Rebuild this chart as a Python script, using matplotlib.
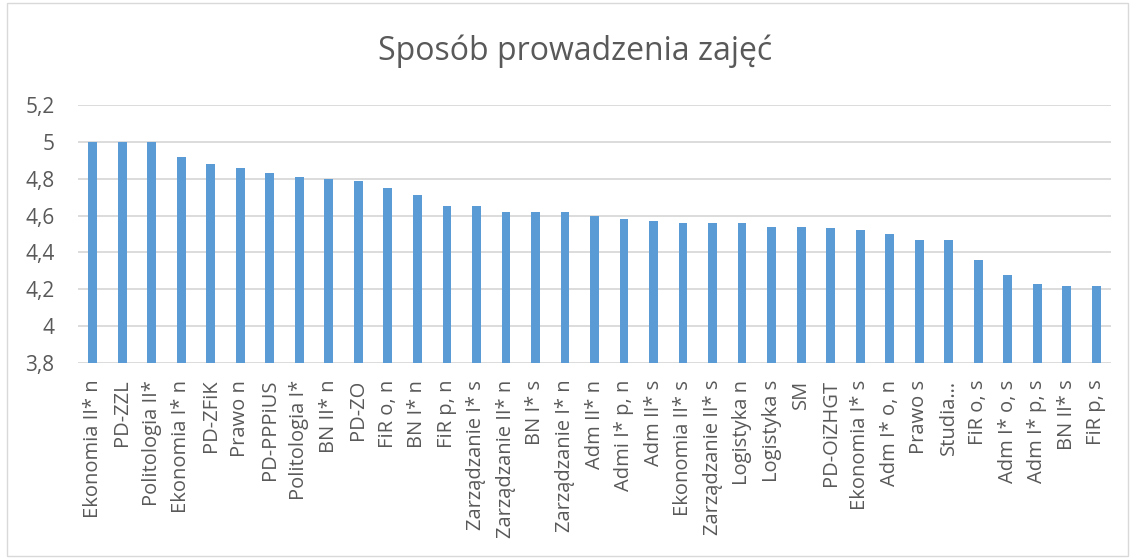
import matplotlib
matplotlib.use("Agg")
import matplotlib.pyplot as plt
from matplotlib.patches import Rectangle
from matplotlib.ticker import FuncFormatter

# values
categories = [
    "Ekonomia II* n", "PD-ZZL", "Politologia II*", "Ekonomia I* n", "PD-ZFiK",
    "Prawo n", "PD-PPPiUS", "Politologia I*", "BN II* n", "PD-ZO",
    "FiR o, n", "BN I* n", "FiR p, n", "Zarządzanie I* s", "Zarządzanie II* n",
    "BN I* s", "Zarządzanie I* n", "Adm II* n", "Admi I* p, n", "Adm II* s",
    "Ekonomia II* s", "Zarządzanie II* s", "Logistyka n", "Logistyka s", "SM",
    "PD-OiZHGT", "Ekonomia I* s", "Adm I* o, n", "Prawo s", "Studia…",
    "FiR o, s", "Adm I* o, s", "Adm I* p, s", "BN II* s", "FiR p, s",
]
values = [
    5.00, 5.00, 5.00, 4.92, 4.88,
    4.86, 4.83, 4.81, 4.80, 4.79,
    4.75, 4.71, 4.65, 4.65, 4.62,
    4.62, 4.62, 4.60, 4.58, 4.57,
    4.56, 4.56, 4.56, 4.54, 4.54,
    4.53, 4.52, 4.50, 4.47, 4.47,
    4.36, 4.28, 4.23, 4.22, 4.22,
]
y_ticks = [3.8, 4.0, 4.2, 4.4, 4.6, 4.8, 5.0, 5.2]

title = "Sposób prowadzenia zajęć"
bar_color = "#5B9BD5"
text_color = "#595959"
grid_color = "#D9D9D9"

plt.rcParams['font.family'] = ['Open Sans', 'DejaVu Sans']

fig = plt.figure(figsize=(11.35, 5.58), dpi=100)
ax = fig.add_axes([78 / 1135, 1 - 363 / 558, (1111 - 78) / 1135, (363 - 105) / 558])

x = range(len(categories))
ax.bar(x, values, width=0.3, color=bar_color, zorder=3)

ax.set_ylim(3.8, 5.2)
ax.set_xlim(-0.5, len(categories) - 0.5)
ax.set_yticks(y_ticks)
ax.yaxis.set_major_formatter(FuncFormatter(lambda v, p: f"{v:g}".replace(".", ",")))
ax.set_xticks(list(x))
ax.set_xticklabels(categories, rotation=90, fontsize=14.5, color=text_color)
ax.tick_params(axis="y", labelsize=15, labelcolor=text_color, length=0, pad=17)
ax.tick_params(axis="x", length=0, pad=12)

ax.grid(axis="y", color=grid_color, linewidth=1.3, zorder=0)
for s in ax.spines.values():
    s.set_visible(False)

fig.text(575 / 1135, 1 - 51 / 558, title, ha="center", va="center",
         fontsize=23, color=text_color)

# chart border
fig.patches.append(Rectangle((7 / 1135, 2 / 558), 1121 / 1135, 553 / 558,
                             transform=fig.transFigure, fill=False,
                             edgecolor="#D9D9D9", linewidth=1))

fig.savefig("out.png", dpi=100)
